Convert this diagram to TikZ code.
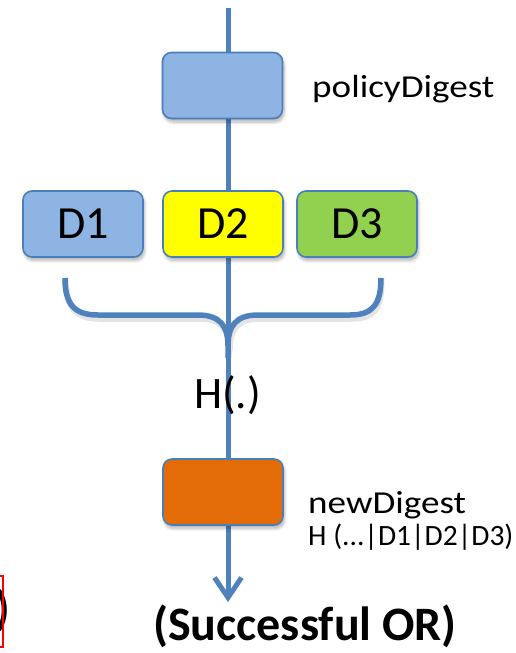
\documentclass[tikz,border=0pt]{standalone}
\usepackage{fontspec}
\usepackage{graphicx}
\setmainfont{Carlito}
\usetikzlibrary{arrows.meta,shadows.blur}
\pgfdeclarelayer{bg}
\pgfsetlayers{bg,main}
\definecolor{flowblue}{HTML}{4F81BD}
\definecolor{edgeblue}{HTML}{4A7EBB}
\definecolor{lightblue}{HTML}{8EB4E3}
\definecolor{dyellow}{HTML}{FFFF00}
\definecolor{dgreen}{HTML}{92D050}
\definecolor{dorange}{HTML}{E36C09}
\newcommand{\fs}[1]{\fontsize{#1}{#1}\selectfont}
\newcommand{\widelbl}[1]{\scalebox{1.16}[1]{\fs{32}#1}}
\tikzset{
  digestbox/.style={draw=edgeblue, line width=1.6pt, rounded corners=9pt,
    minimum width=120pt, minimum height=66pt, inner sep=0pt,
    blur shadow={shadow xshift=1.5pt, shadow yshift=-3.5pt,
      shadow blur radius=3pt, shadow blur steps=8, shadow opacity=30}},
  flow/.style={draw=flowblue, line width=5pt},
  brace/.style={draw=flowblue, line width=5.5pt, line cap=butt},
  lbl/.style={inner sep=0pt, text=black},
}
\begin{document}
\begin{tikzpicture}[x=1pt, y=-1pt]
\useasboundingbox (0,0) rectangle (516,653);

% digest boxes
\node[digestbox, fill=lightblue] (policy) at (222.5,85.5) {};
\node[digestbox, fill=lightblue] (d1) at (83,224) {\fs{46}D1};
\node[digestbox, fill=dyellow]  (d2) at (223,224) {\fs{46}D2};
\node[digestbox, fill=dgreen]   (d3) at (357,224) {\fs{46}D3};
\node[digestbox, fill=dorange]  (newd) at (223,492) {};

% labels
\node[lbl, anchor=base west] (policylbl) at (312,97) {\widelbl{policyDigest}};
\node[lbl, anchor=base west] (newlbl) at (308,513) {\widelbl{newDigest}};
\node[lbl, anchor=base west] (hashlbl) at (308,545) {\fs{29.5}H (...|D1|D2|D3)};
\node[lbl, anchor=base west] (hfun) at (194,408) {\fs{45}H(.)};
\node[lbl, anchor=base west] (result) at (153,640) {\fs{48}\bfseries (Successful OR)};

% main digest flow and the brace joining D1..D3
\coordinate (top) at (228,8);
\coordinate (tip) at (228,602);
\coordinate (bl) at (65,278);
\coordinate (br) at (381,278);
\coordinate (cusp) at (228,358);
\def\bracepath{(bl) .. controls (65,304) and (74,315) .. (98,315) -- (198,315)
  .. controls (220,315) and (228,326) .. (228,346) -- (cusp)
  (cusp) -- (228,346) .. controls (228,326) and (236,315) .. (258,315) -- (350,315)
  .. controls (373,315) and (381,304) .. (br)}
\begin{pgfonlayer}{bg}
  \begin{scope}[opacity=0.15, xshift=1.5pt, yshift=-3.5pt]
    \draw[line width=6.5pt, draw=black!70] \bracepath;
  \end{scope}
  \draw[brace] \bracepath;
  \draw[flow, -{Straight Barb[length=20pt, width=27pt]}] (top) -- (tip);
\end{pgfonlayer}

% clipped fragment at the lower left edge
\begin{scope}
  \clip (0,0) rectangle (516,653);
  \node[lbl, anchor=east] (frag) at (10,611) {\fs{47}\bfseries )};
  \draw[red, line width=1.3pt] (-30,576) rectangle (3,647);
\end{scope}
\end{tikzpicture}
\end{document}
